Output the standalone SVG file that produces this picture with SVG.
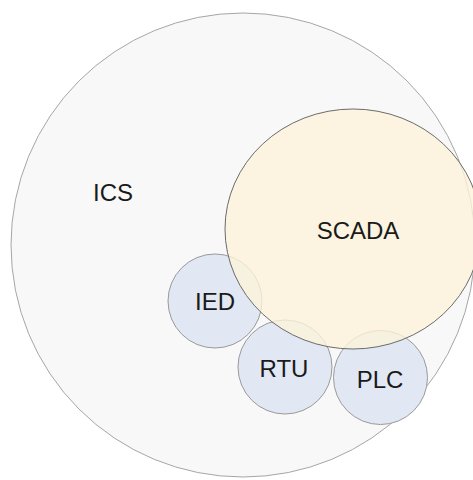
<svg xmlns="http://www.w3.org/2000/svg" width="473" height="480" viewBox="0 0 473 480">
  <style>
    .lbl { font-family: "Liberation Sans", Arial, sans-serif; font-size: 24px; fill: #1a1a1a; text-anchor: middle; }
    .small { fill: #e1e8f4; stroke: #9a9a9a; stroke-width: 1; }
  </style>
  <rect width="473" height="480" fill="#ffffff"/>
  <g id="ics">
    <circle cx="243" cy="245" r="232" fill="#f8f8f8" stroke="#a6a6a6" stroke-width="1"/>
    <text class="lbl" x="113" y="201">ICS</text>
  </g>
  <g id="ied">
    <circle class="small" cx="215" cy="301" r="47"/>
    <text class="lbl" x="215" y="310">IED</text>
  </g>
  <g id="rtu">
    <circle class="small" cx="285" cy="367" r="47"/>
    <text class="lbl" x="284" y="377">RTU</text>
  </g>
  <g id="plc">
    <circle class="small" cx="380.5" cy="377.5" r="47"/>
    <text class="lbl" x="380" y="388">PLC</text>
  </g>
  <g id="scada">
    <ellipse cx="353" cy="229" rx="128" ry="120" fill="#fcf2da" fill-opacity="0.8" stroke="#6b6b6b" stroke-width="1"/>
    <text class="lbl" x="358" y="239">SCADA</text>
  </g>
  <g id="connectors"/>
</svg>
